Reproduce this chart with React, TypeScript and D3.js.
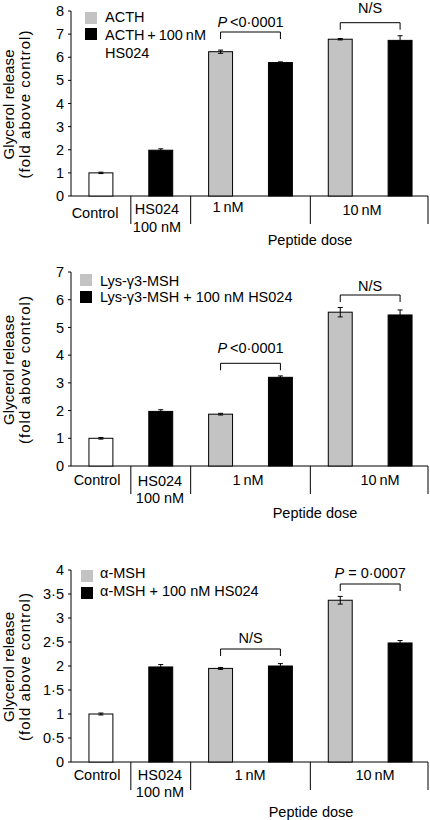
import React from "react";
import * as d3 from "d3";

// ---------- DATA ----------
const slots = ["control", "hs024", "pep1", "combo1", "pep10", "combo10"];
const slotFills = ["white", "black", "gray", "black", "gray", "black"];

const acthValues = [1.0, 1.98, 6.24, 5.77, 6.78, 6.73];
const acthErrors = [0.03, 0.06, 0.07, 0.03, 0.03, 0.2];
const acthTicks = [0, 1, 2, 3, 4, 5, 6, 7, 8];
const acthLegend = ["ACTH", "ACTH\u2009+\u2009100\u2009nM", "HS024"];

const lysValues = [1.0, 1.97, 1.87, 3.2, 5.55, 5.45];
const lysErrors = [0.03, 0.06, 0.03, 0.05, 0.17, 0.18];
const lysTicks = [0, 1, 2, 3, 4, 5, 6, 7];
const lysLegend = ["Lys-\u03b33-MSH", "Lys-\u03b33-MSH + 100 nM HS024"];

const msgValues = [1.0, 1.98, 1.95, 2.0, 3.37, 2.48];
const msgErrors = [0.02, 0.05, 0.02, 0.05, 0.08, 0.05];
const msgTicks = [0, 0.5, 1, 1.5, 2, 2.5, 3, 3.5, 4];
const msgLegend = ["\u03b1-MSH", "\u03b1-MSH + 100 nM HS024"];

const groupLabels = ["Control", "HS024", "100 nM", "1\u2009nM", "10\u2009nM"];
const xTitle = "Peptide dose";
const yTitle = ["Glycerol release", "(fold above control)"];

const acthBrackets = [
  { from: 2, to: 3, italic: "P", text: "\u2009<0\u00b70001" },
  { from: 4, to: 5, italic: "", text: "N/S" },
];
const lysBrackets = [
  { from: 2, to: 3, italic: "P", text: "\u2009<0\u00b70001" },
  { from: 4, to: 5, italic: "", text: "N/S" },
];
const msgBrackets = [
  { from: 2, to: 3, italic: "", text: "N/S" },
  { from: 4, to: 5, italic: "P", text: " = 0\u00b70007" },
];

// ---------- LAYOUT ----------
const FONT = "'Liberation Sans', Arial, Helvetica, sans-serif";
const GRAY = "#c3c3c3";
const X0 = 71;
const X1 = 430;

const layouts = [
  {
    y0: 196, y1: 11, divBottom: 224,
    bracketY: [32, 22.7], bracketTextGap: [5, 10],
    legend: { sqX: 85, sqY: [12, 28], textX: 105, base: [22, 40, 58] },
    labels: { control: [95, 218], hs: [157, 214], hs2: [157, 232], n1: [228, 212], n10: [362, 215], title: [310, 245] },
  },
  {
    y0: 466, y1: 272, divBottom: 494,
    bracketY: [363.3, 295], bracketTextGap: [10, 4.5],
    legend: { sqX: 80, sqY: [274, 291], textX: 100, base: [286, 302] },
    labels: { control: [97, 485], hs: [160, 486], hs2: [160, 503], n1: [248, 485], n10: [380, 485], title: [315, 518] },
  },
  {
    y0: 762, y1: 570, divBottom: 790,
    bracketY: [649, 584], bracketTextGap: [6, 6],
    legend: { sqX: 81, sqY: [570, 587], textX: 100, base: [578, 596] },
    labels: { control: [97, 780], hs: [160, 780], hs2: [160, 797], n1: [250, 780], n10: [375, 780], title: [311, 817] },
  },
];

const fmt = (d: number) => String(d).replace(".", "\u00b7");

function Panel({ values, errors, ticks, legend, brackets, layout }: any) {
  const yMax = ticks[ticks.length - 1];
  const y = d3.scaleLinear().domain([0, yMax]).range([layout.y0, layout.y1]);
  const x = d3
    .scaleBand<number>()
    .domain(d3.range(slots.length))
    .range([X0, X1])
    .paddingInner(0.6)
    .paddingOuter(0.3);
  const bw = x.bandwidth();
  const step = x.step();
  const cx = (i: number) => (x(i) as number) + bw / 2;
  const divs = [0, 1, 3].map((i) => cx(i) + step / 2).concat([X1 - 2]);
  const fillOf = (k: string) => (k === "white" ? "white" : k === "black" ? "black" : GRAY);
  const L = layout.labels;
  const lg = layout.legend;
  const midY = (layout.y0 + layout.y1) / 2 + 1;

  return (
    <g fontFamily={FONT}>
      {/* y axis */}
      <line x1={X0} x2={X0} y1={y(yMax)} y2={y(0)} stroke="#000" strokeWidth={1} />
      {ticks.map((t: number) => (
        <g key={t}>
          <line x1={X0 - 3} x2={X0} y1={y(t)} y2={y(t)} stroke="#000" strokeWidth={1} />
          <text x={X0 - 7} y={y(t)} dy="0.35em" textAnchor="end" fontSize={14.5}>
            {fmt(t)}
          </text>
        </g>
      ))}
      {/* x axis */}
      <line x1={X0} x2={X1 - 2} y1={y(0)} y2={y(0)} stroke="#000" strokeWidth={1} />
      {divs.map((d, i) => (
        <line key={i} x1={d} x2={d} y1={y(0)} y2={layout.divBottom} stroke="#000" strokeWidth={1} />
      ))}
      {/* bars */}
      {values.map((v: number, i: number) => (
        <g key={i}>
          <rect
            x={x(i)}
            y={y(v)}
            width={bw}
            height={y(0) - y(v)}
            fill={fillOf(slotFills[i])}
            stroke="#000"
            strokeWidth={1}
          />
          <line x1={cx(i)} x2={cx(i)} y1={y(v + errors[i])} y2={y(v - errors[i])} stroke="#000" strokeWidth={1} />
          <line x1={cx(i) - 2.5} x2={cx(i) + 2.5} y1={y(v + errors[i])} y2={y(v + errors[i])} stroke="#000" strokeWidth={1} />
          <line x1={cx(i) - 2.5} x2={cx(i) + 2.5} y1={y(v - errors[i])} y2={y(v - errors[i])} stroke="#000" strokeWidth={1} />
        </g>
      ))}
      {/* brackets */}
      {brackets.map((b: any, i: number) => {
        const by = layout.bracketY[i];
        const xa = cx(b.from);
        const xb = cx(b.to);
        return (
          <g key={i}>
            <path d={`M${xa},${by + 7}V${by}H${xb}V${by + 7}`} fill="none" stroke="#000" strokeWidth={1} />
            <text x={(xa + xb) / 2} y={by - layout.bracketTextGap[i]} textAnchor="middle" fontSize={14.5}>
              {b.italic ? <tspan fontStyle="italic">{b.italic}</tspan> : null}
              {b.text}
            </text>
          </g>
        );
      })}
      {/* legend */}
      <rect x={lg.sqX} y={lg.sqY[0]} width={12} height={12} fill={GRAY} />
      <rect x={lg.sqX} y={lg.sqY[1]} width={12} height={12} fill="#000" />
      {legend.map((t: string, i: number) => (
        <text key={i} x={lg.textX} y={lg.base[i]} fontSize={14.5}>
          {t}
        </text>
      ))}
      {/* group labels */}
      <text x={L.control[0]} y={L.control[1]} textAnchor="middle" fontSize={14.5}>{groupLabels[0]}</text>
      <text x={L.hs[0]} y={L.hs[1]} textAnchor="middle" fontSize={14.5}>{groupLabels[1]}</text>
      <text x={L.hs2[0]} y={L.hs2[1]} textAnchor="middle" fontSize={14.5}>{groupLabels[2]}</text>
      <text x={L.n1[0]} y={L.n1[1]} textAnchor="middle" fontSize={14.5}>{groupLabels[3]}</text>
      <text x={L.n10[0]} y={L.n10[1]} textAnchor="middle" fontSize={14.5}>{groupLabels[4]}</text>
      <text x={L.title[0]} y={L.title[1]} textAnchor="middle" fontSize={14.5}>{xTitle}</text>
      {/* y title */}
      <text transform={`translate(14,${midY}) rotate(-90)`} textAnchor="middle" fontSize={15} textLength={110} lengthAdjust="spacing">{yTitle[0]}</text>
      <text transform={`translate(29.5,${midY}) rotate(-90)`} textAnchor="middle" fontSize={15} textLength={148} lengthAdjust="spacing">{yTitle[1]}</text>
    </g>
  );
}

export default function App() {
  const data = [
    { values: acthValues, errors: acthErrors, ticks: acthTicks, legend: acthLegend, brackets: acthBrackets },
    { values: lysValues, errors: lysErrors, ticks: lysTicks, legend: lysLegend, brackets: lysBrackets },
    { values: msgValues, errors: msgErrors, ticks: msgTicks, legend: msgLegend, brackets: msgBrackets },
  ];
  return (
    <svg
      width={430}
      height={820}
      viewBox="0 0 430 820"
      style={{ position: "absolute", left: 0, top: 0, background: "white" }}
    >
      <rect width={430} height={820} fill="white" />
      {data.map((d, i) => (
        <Panel key={i} {...d} layout={layouts[i]} />
      ))}
    </svg>
  );
}
